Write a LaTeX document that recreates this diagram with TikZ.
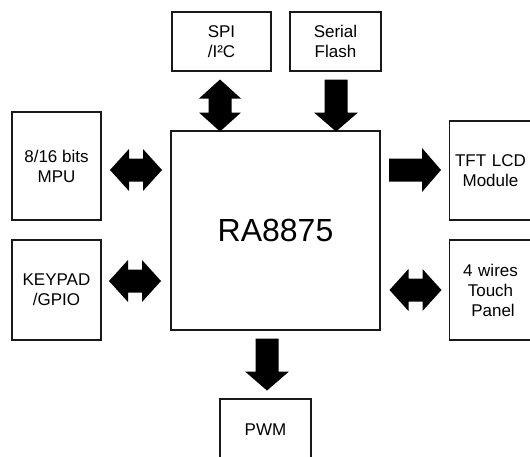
\documentclass[tikz,border=0pt]{standalone}
\usepackage{fontspec}
\setmainfont{Liberation Sans}
\begin{document}
\begin{tikzpicture}[x=1pt,y=-1pt,
  box/.style={draw=black!90, line width=1.1pt, fill=white, align=center, inner sep=0pt,
    font=\fontsize{17}{20}\selectfont},
  darrow/.pic={\fill[black] (-26,0) -- (-7,21) -- (-7,11.5) -- (7,11.5) -- (7,21) -- (26,0)
      -- (7,-21) -- (7,-11.5) -- (-7,-11.5) -- (-7,-21) -- cycle;},
  sarrow/.pic={\fill[black] (-26,11.5) -- (7,11.5) -- (7,22) -- (26,0) -- (7,-22)
      -- (7,-11.5) -- (-26,-11.5) -- cycle;}
]
\useasboundingbox (0,0) rectangle (530,456);
\clip (0,0) rectangle (530,456);
\fill[white] (0,0) rectangle (530,456);

% boxes
\node[box, minimum width=209, minimum height=199, font=\fontsize{32}{36}\selectfont] (main) at (275.5,230.5) {RA8875};
\node[box, minimum width=99, minimum height=59] (spi) at (221.5,41.5) {SPI\\/I²C};
\node[box, minimum width=91, minimum height=59] (flash) at (335.5,41.5) {Serial\\Flash};
\node[box, minimum width=89, minimum height=108] (mpu) at (56.5,166) {8/16 bits\\MPU};
\node[box, minimum width=89, minimum height=100] (keypad) at (56.5,290) {KEYPAD\\/GPIO};
\node[box, minimum width=82, minimum height=99, text width=82] (tft) at (490.5,170.5) {TFT LCD\\Module};
\node[box, minimum width=82, minimum height=100, text width=82] (touch) at (490.5,290) {4 wires\\Touch\\\hspace*{5pt}Panel};
\node[box, minimum width=91, minimum height=62] (pwm) at (265.5,430) {PWM};

% block arrows
\pic[rotate=90] at (220,105.5) {darrow};
\pic[rotate=-90] at (336,105.5) {sarrow};
\pic at (136,170) {darrow};
\pic at (135,281) {darrow};
\pic at (415,170) {sarrow};
\pic at (415.5,290) {darrow};
\pic[rotate=-90] at (267,364.5) {sarrow};
\end{tikzpicture}
\end{document}
